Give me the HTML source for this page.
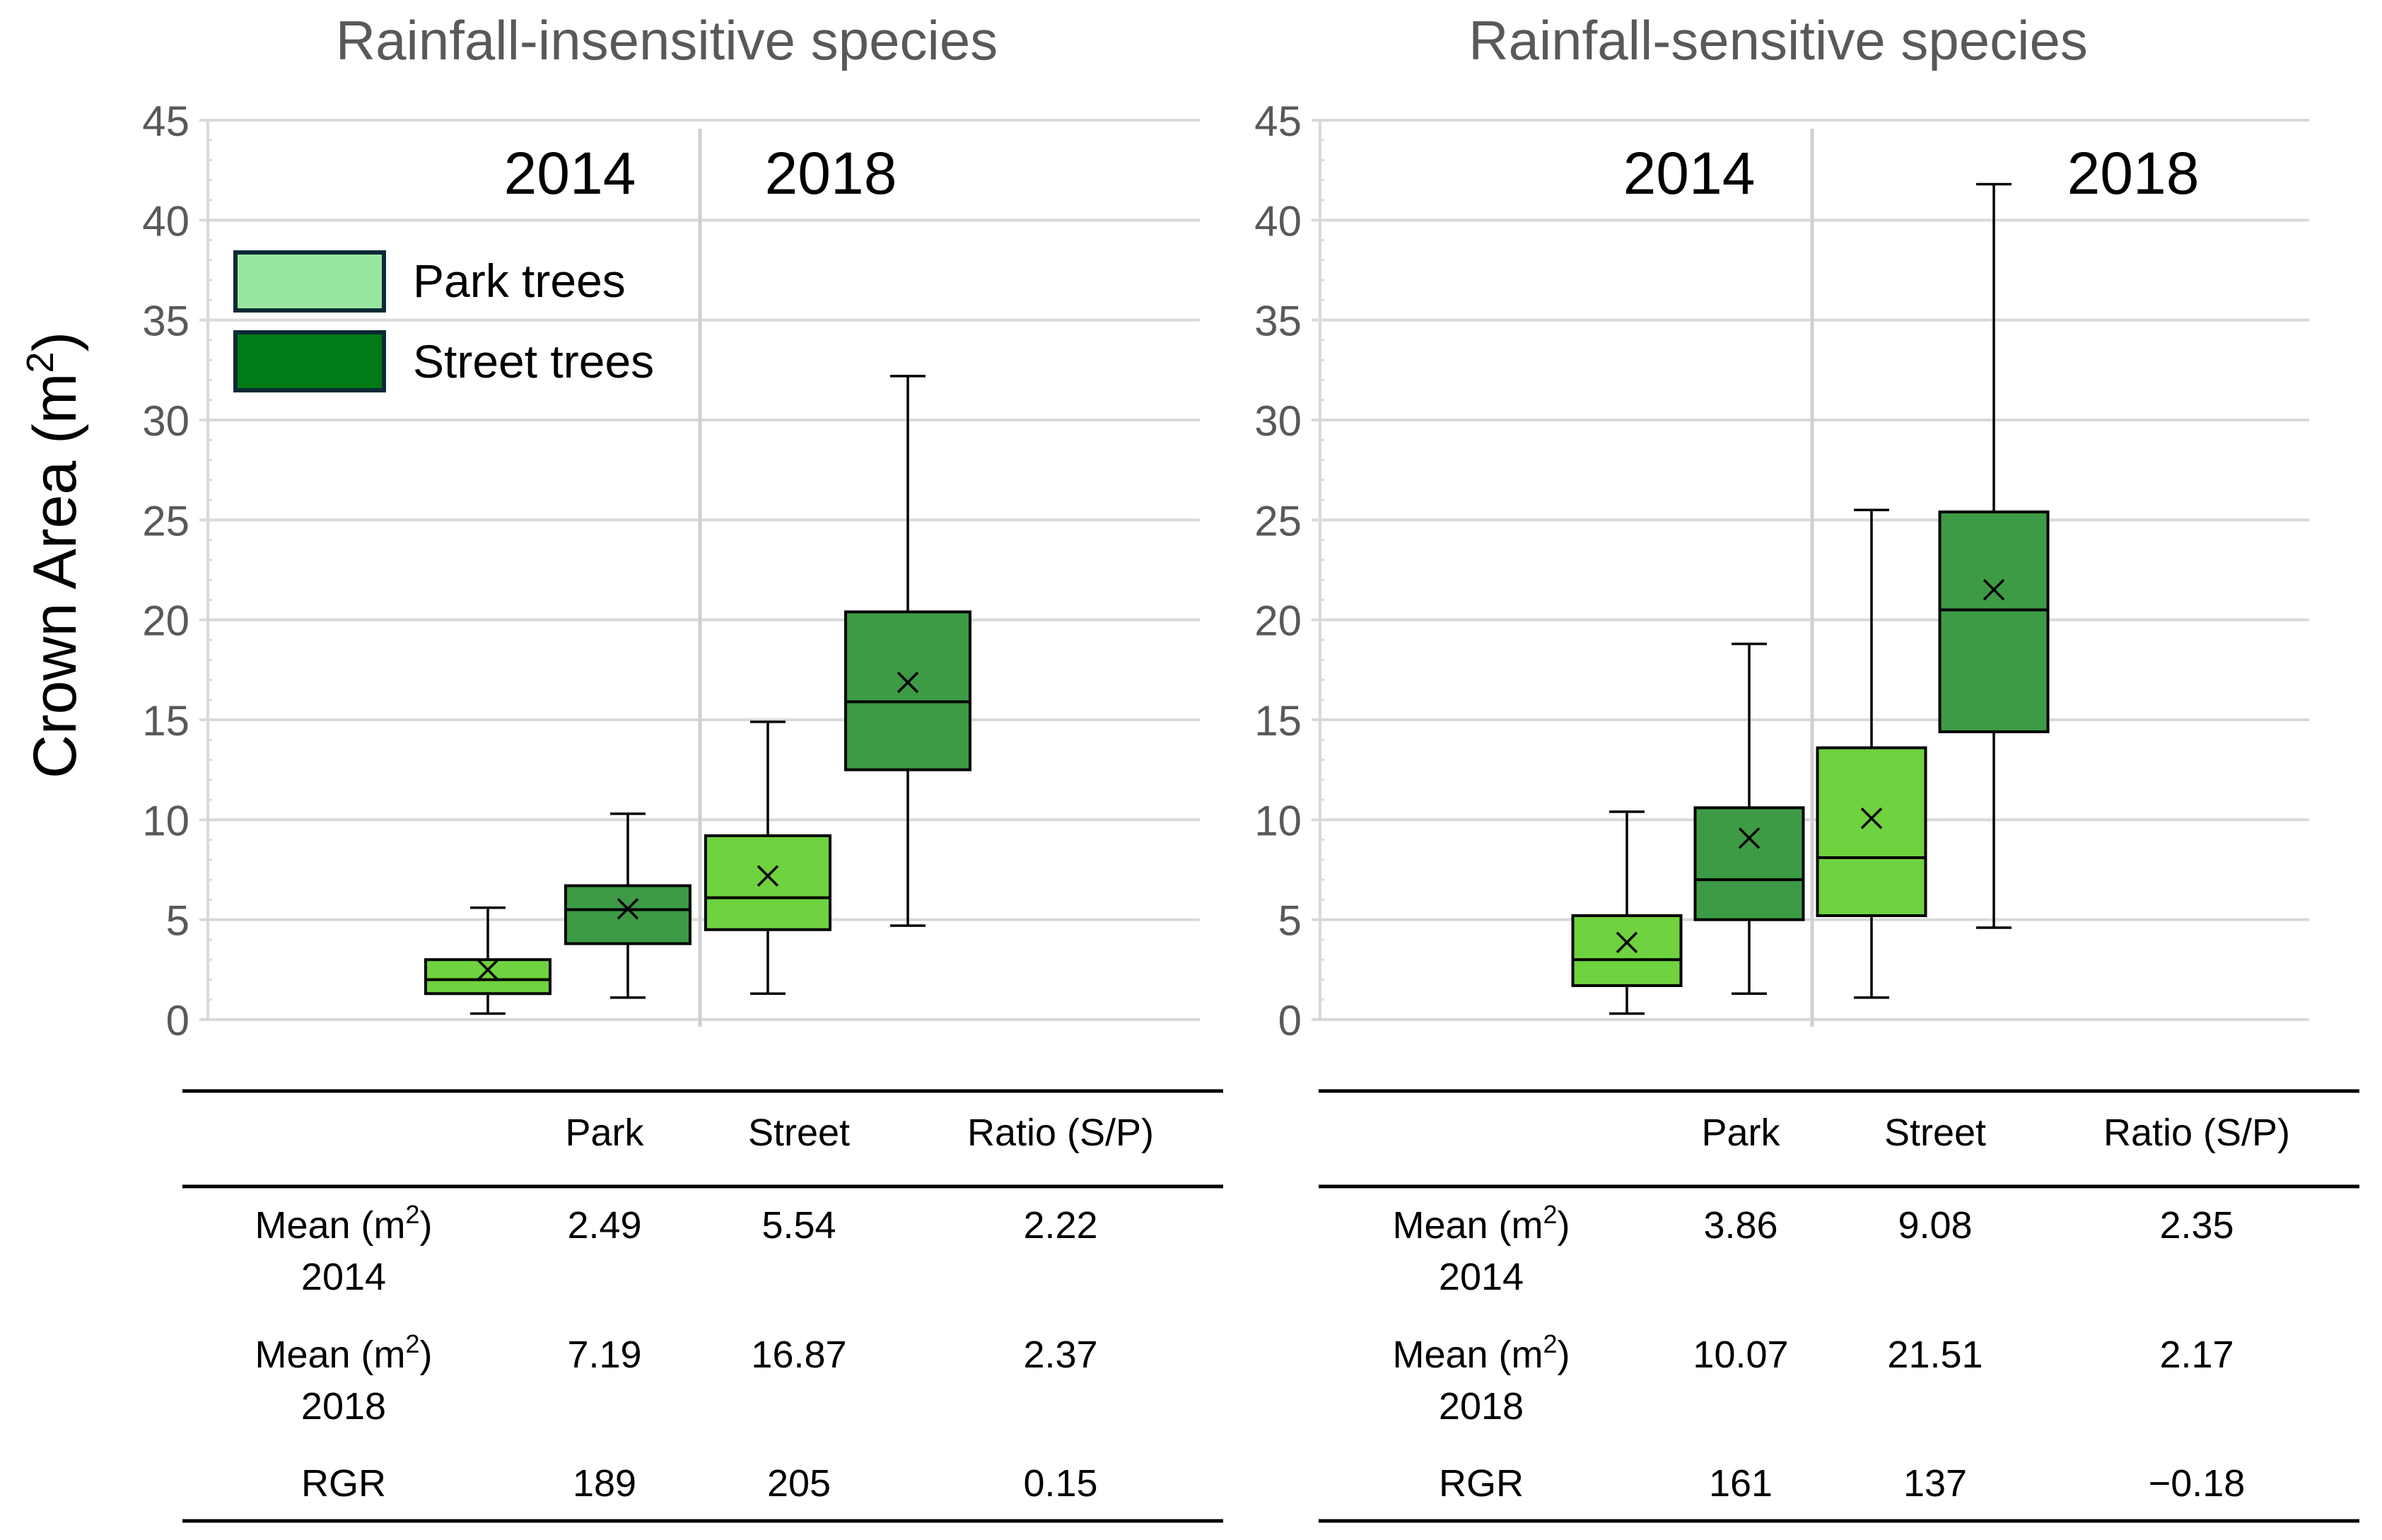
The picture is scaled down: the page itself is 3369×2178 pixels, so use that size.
<!DOCTYPE html>
<html><head><meta charset="utf-8">
<style>
html,body{margin:0;padding:0;background:#fff;}
svg{display:block;font-family:"Liberation Sans",sans-serif;}
</style></head>
<body>
<svg id="fig" width="3369" height="2178" viewBox="0 0 3369 2178" xmlns="http://www.w3.org/2000/svg">
<g id="left"></g>
<g id="right"></g>
<text transform="translate(107,785) rotate(-90)" text-anchor="middle" font-size="86" fill="#000">Crown Area (m<tspan font-size="54" dy="-32">2</tspan><tspan dy="32">)</tspan></text>
<g>
 <rect x="333" y="357" width="210" height="82" fill="#98e6a0" stroke="#0b2a36" stroke-width="6"/>
 <text x="584" y="420" font-size="66" fill="#000">Park trees</text>
 <rect x="333" y="470" width="210" height="82" fill="#007a14" stroke="#0b2a36" stroke-width="6"/>
 <text x="584" y="534" font-size="66" fill="#000">Street trees</text>
</g>
</svg>
<script>
const yTicks = [0,5,10,15,20,25,30,35,40,45];
const groups = ["Park 2014","Street 2014","Park 2018","Street 2018"];
const leftMin = [0.3,1.1,1.3,4.7];
const leftQ1 = [1.3,3.8,4.5,12.5];
const leftMed = [2.0,5.5,6.1,15.9];
const leftQ3 = [3.0,6.7,9.2,20.4];
const leftMax = [5.6,10.3,14.9,32.2];
const leftMean = [2.49,5.54,7.19,16.87];
const rightMin = [0.3,1.3,1.1,4.6];
const rightQ1 = [1.7,5.0,5.2,14.4];
const rightMed = [3.0,7.0,8.1,20.5];
const rightQ3 = [5.2,10.6,13.6,25.4];
const rightMax = [10.4,18.8,25.5,41.8];
const rightMean = [3.86,9.08,10.07,21.51];
const tableCols = ["","Park","Street","Ratio (S/P)"];
const leftTable = [["Mean (m²)|2014","2.49","5.54","2.22"],["Mean (m²)|2018","7.19","16.87","2.37"],["RGR","189","205","0.15"]];
const rightTable = [["Mean (m²)|2014","3.86","9.08","2.35"],["Mean (m²)|2018","10.07","21.51","2.17"],["RGR","161","137","−0.18"]];
const fills = ["#6fd23f","#3d9b45","#6fd23f","#3d9b45"];

const NS="http://www.w3.org/2000/svg";
function mk(parent,tag,attrs,text){const e=document.createElementNS(NS,tag);for(const k in attrs)e.setAttribute(k,attrs[k]);if(text!==undefined)e.textContent=text;parent.appendChild(e);return e;}

function panel(g,cfg,mins,q1,med,q3,max,mean,table){
  const y=v=>cfg.y0+(cfg.y45-cfg.y0)*v/45;
  const t=mk(g,'text',{x:cfg.titleX,y:84,'text-anchor':'middle','font-size':78,fill:'#595959'},cfg.title);
  
  
  yTicks.forEach(v=>{
    const l=mk(g,'line',{x1:cfg.x0-12,x2:cfg.x1,y1:y(v),y2:y(v),stroke:'#d9d9d9','stroke-width':4});
    
    
    const tx=mk(g,'text',{x:cfg.x0-26,y:y(v)+22,'text-anchor':'end','font-size':60,fill:'#595959'},String(v));
    
    
  });
  const ax=mk(g,'line',{x1:cfg.x0,x2:cfg.x0,y1:y(45),y2:y(0),stroke:'#d9d9d9','stroke-width':4});
  
  
  for(let v=1;v<45;v++){ if(v%5) {const m=mk(g,'line',{x1:cfg.x0,x2:cfg.x0+6,y1:y(v),y2:y(v),stroke:'#d9d9d9','stroke-width':3});
    
    }}
  const dv=mk(g,'line',{x1:cfg.div,x2:cfg.div,y1:y(45)+12,y2:y(0)+10,stroke:'#d0d0d0','stroke-width':5});
  
  
  cfg.years.forEach((yr,i)=>{const e=mk(g,'text',{x:cfg.yearX[i],y:274,'text-anchor':'middle','font-size':84,'font-weight':'500',fill:'#000'},yr);
    
    });
  groups.forEach((name,i)=>{
    const cx=cfg.c0+cfg.step*i, w=cfg.bw, cw=50;
    const bg=mk(g,'g',{});
    
    
    mk(bg,'line',{x1:cx,x2:cx,y1:y(max[i]),y2:y(q3[i]),stroke:'#000','stroke-width':3.5});
    mk(bg,'line',{x1:cx,x2:cx,y1:y(q1[i]),y2:y(mins[i]),stroke:'#000','stroke-width':3.5});
    mk(bg,'line',{x1:cx-cw/2,x2:cx+cw/2,y1:y(max[i]),y2:y(max[i]),stroke:'#000','stroke-width':3.5});
    mk(bg,'line',{x1:cx-cw/2,x2:cx+cw/2,y1:y(mins[i]),y2:y(mins[i]),stroke:'#000','stroke-width':3.5});
    mk(bg,'rect',{x:cx-w/2,y:y(q3[i]),width:w,height:y(q1[i])-y(q3[i]),fill:fills[i],stroke:'#000','stroke-width':4});
    mk(bg,'line',{x1:cx-w/2,x2:cx+w/2,y1:y(med[i]),y2:y(med[i]),stroke:'#000','stroke-width':4});
    const my=y(mean[i]), s=14;
    mk(bg,'path',{d:`M${cx-s} ${my-s}L${cx+s} ${my+s}M${cx+s} ${my-s}L${cx-s} ${my+s}`,stroke:'#000','stroke-width':3.5});
  });
  const tg=mk(g,'g',{});
  
  
  [1543,1678,2151].forEach(ly=>mk(tg,'line',{x1:cfg.tx0,x2:cfg.tx1,y1:ly,y2:ly,stroke:'#000','stroke-width':5}));
  tableCols.forEach((c,j)=>{ if(c) mk(tg,'text',{x:cfg.cols[j],y:1620,'text-anchor':'middle','font-size':54,fill:'#000'},c);});
  const rowY=[1751,1934,2116];
  table.forEach((row,r)=>{
    row.forEach((cell,j)=>{
      if(j===0 && cell.indexOf('|')>=0){
        const [a,b]=cell.split('|');
        const t1=mk(tg,'text',{x:cfg.cols[0],y:rowY[r],'text-anchor':'middle','font-size':54,fill:'#000'});
        t1.innerHTML='Mean (m<tspan font-size="36" dy="-21">2</tspan><tspan dy="21">)</tspan>';
        mk(tg,'text',{x:cfg.cols[0],y:rowY[r]+73,'text-anchor':'middle','font-size':54,fill:'#000'},b);
      } else mk(tg,'text',{x:cfg.cols[j],y:rowY[r],'text-anchor':'middle','font-size':54,fill:'#000'},cell);
    });
  });
}
panel(document.getElementById('left'),{title:'Rainfall-insensitive species',titleX:943,x0:294,x1:1697,y0:1442,y45:170,div:990,years:['2014','2018'],yearX:[806,1175],c0:690,step:198,bw:176,tx0:258,tx1:1730,cols:[486,855,1130,1500]},leftMin,leftQ1,leftMed,leftQ3,leftMax,leftMean,leftTable);
panel(document.getElementById('right'),{title:'Rainfall-sensitive species',titleX:2515,x0:1867,x1:3266,y0:1442,y45:170,div:2563,years:['2014','2018'],yearX:[2389,3017],c0:2301,step:173,bw:153,tx0:1865,tx1:3337,cols:[2095,2462,2737,3107]},rightMin,rightQ1,rightMed,rightQ3,rightMax,rightMean,rightTable);
</script>
</body></html>
